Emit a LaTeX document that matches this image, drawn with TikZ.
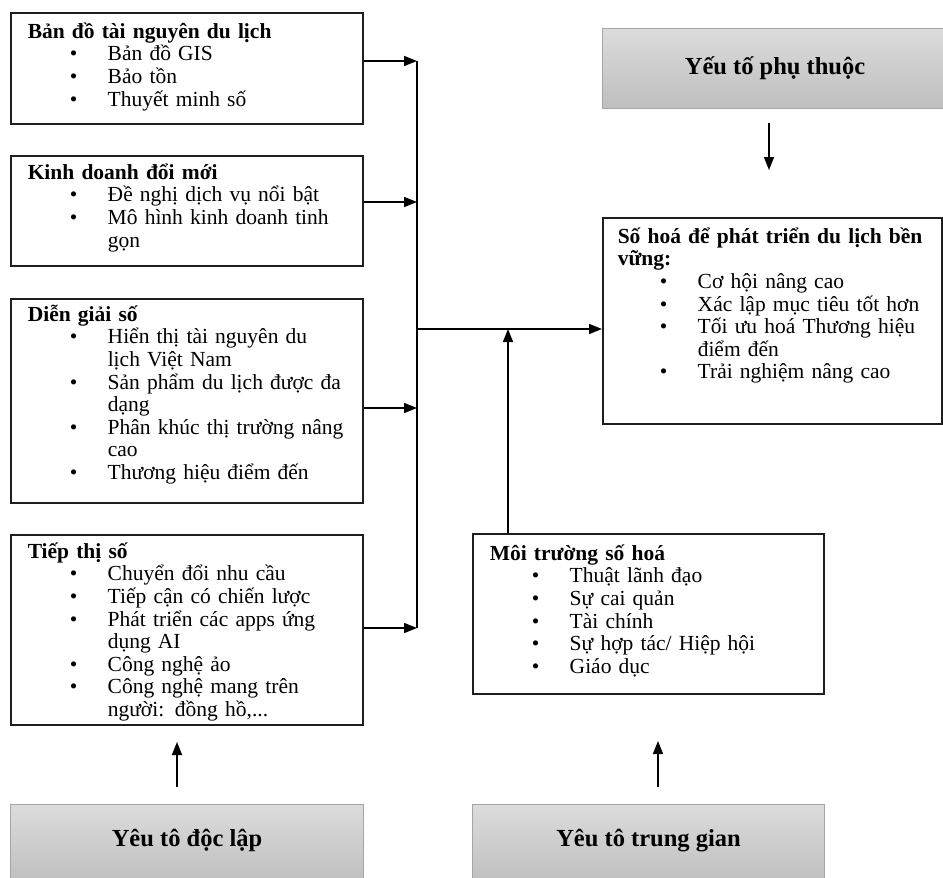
\documentclass[tikz,border=0pt]{standalone}
\usepackage{fontspec}
\setmainfont{Liberation Serif}
\usetikzlibrary{arrows.meta}

\newcommand{\ttl}[1]{\lineskiplimit=-50pt\relax\parskip=0pt\relax\par\noindent\rule{0pt}{21pt}{\bfseries #1}\par}
\newcommand{\itm}[1]{\par\noindent\hspace*{42pt}\makebox[38pt][l]{\textbullet}#1\par}
\newcommand{\cnt}[1]{\par\noindent\hspace*{80pt}#1\par}

\tikzset{every picture/.style={line width=1.5pt}}
\tikzset{
  listbox/.style={draw={rgb, 255:red, 30; green, 30; blue, 30 }, rectangle, inner sep=0pt, anchor=north west},
  listtext/.style={anchor=north west, inner sep=0pt, text width=#1, align=left,
    font=\fontsize{21.5}{22.6}\selectfont},
  greybox/.style={draw={rgb, 255:red, 165; green, 165; blue, 165 }, line width=1pt, rectangle, inner sep=0pt, anchor=north west,
    top color={rgb, 255:red, 220; green, 220; blue, 220 }, bottom color={rgb, 255:red, 190; green, 190; blue, 190 },
    font=\fontsize{24.5}{26}\selectfont\bfseries},
  conn/.style={-{Triangle[length=13pt,width=10pt]}},
}

\begin{document}
\begin{tikzpicture}[x=1pt,y=1pt,yscale=-1]
	\useasboundingbox (0,0) rectangle (943,878);

	%Shape: Rectangle [left column]
	\node [listbox, minimum width=352, minimum height=111] (ban) at (10,12) {};
	\node [listbox, minimum width=352, minimum height=110] (kd) at (10,155) {};
	\node [listbox, minimum width=352, minimum height=204] (dg) at (10,298) {};
	\node [listbox, minimum width=352, minimum height=190] (tt) at (10,534) {};
	%Shape: Rectangle [right side]
	\node [listbox, minimum width=339, minimum height=206] (so) at (602,217) {};
	\node [listbox, minimum width=351, minimum height=160] (mt) at (472,533) {};
	%Shape: Grey boxes
	\node [greybox, minimum width=345, minimum height=80] (dep) at (602,28) {Yếu tố phụ thuộc};
	\node [greybox, minimum width=353, minimum height=80, text depth=14pt] (dl) at (10,804) {Yêu tô độc lập};
	\node [greybox, minimum width=352, minimum height=80, text depth=14pt] (tg) at (472,804) {Yêu tô trung gian};

	% Text Node (yshift is flipped by yscale=-1)
	\node [listtext=335pt] (banT) at ([xshift=17pt,yshift=3pt]ban.north west) {\ttl{Bản đồ tài nguyên du lịch}
		\itm{Bản đồ GIS}
		\itm{Bảo tồn}
		\itm{Thuyết minh số}};
	% Text Node
	\node [listtext=335pt] (kdT) at ([xshift=17pt,yshift=1pt]kd.north west) {\ttl{Kinh doanh đổi mới}
		\itm{Đề nghị dịch vụ nổi bật}
		\itm{Mô hình kinh doanh tinh}
		\cnt{gọn}};
	% Text Node
	\node [listtext=335pt] (dgT) at ([xshift=17pt,yshift=0pt]dg.north west) {\ttl{Diễn giải số}
		\itm{Hiển thị tài nguyên du}
		\cnt{lịch Việt Nam}
		\itm{Sản phẩm du lịch được đa}
		\cnt{dạng}
		\itm{Phân khúc thị trường nâng}
		\cnt{cao}
		\itm{Thương hiệu điểm đến}};
	% Text Node
	\node [listtext=335pt] (ttT) at ([xshift=17pt,yshift=1pt]tt.north west) {\ttl{Tiếp thị số}
		\itm{Chuyển đổi nhu cầu}
		\itm{Tiếp cận có chiến lược}
		\itm{Phát triển các apps ứng}
		\cnt{dụng AI}
		\itm{Công nghệ ảo}
		\itm{Công nghệ mang trên}
		\cnt{người: đồng hồ,...}};
	% Text Node
	\node [listtext=325pt] (soT) at ([xshift=15pt,yshift=3pt]so.north west) {\ttl{Số hoá để phát triển du lịch bền}
		\noindent{\bfseries vững:}\par
		\itm{Cơ hội nâng cao}
		\itm{Xác lập mục tiêu tốt hơn}
		\itm{Tối ưu hoá Thương hiệu}
		\cnt{điểm đến}
		\itm{Trải nghiệm nâng cao}};
	% Text Node
	\node [listtext=330pt] (mtT) at ([xshift=17pt,yshift=4pt]mt.north west) {\ttl{Môi trường số hoá}
		\itm{Thuật lãnh đạo}
		\itm{Sự cai quản}
		\itm{Tài chính}
		\itm{Sự hợp tác/ Hiệp hội}
		\itm{Giáo dục}};

	%Straight Lines [bus]
	\coordinate (j1) at (417,61);
	\coordinate (j2) at (417,202);
	\coordinate (j3) at (417,408);
	\coordinate (j4) at (417,628);
	\coordinate (jm) at (417,329);
	\coordinate (ju) at (508,329);
	\draw (j1) -- (j4);
	\draw [conn] (j1 -| ban.east) -- (j1);
	\draw [conn] (j2 -| kd.east) -- (j2);
	\draw [conn] (j3 -| dg.east) -- (j3);
	\draw [conn] (j4 -| tt.east) -- (j4);
	\draw [conn] (jm) -- (jm -| so.west);
	\draw [conn] (ju |- mt.north) -- (ju);

	%Straight Lines [free arrows]
	\coordinate (a1) at (769,123);
	\coordinate (a2) at (769,170);
	\coordinate (b1) at (177,787);
	\coordinate (b2) at (177,742);
	\coordinate (c1) at (658,787);
	\coordinate (c2) at (658,741);
	\draw [conn] (a1) -- (a2);
	\draw [conn] (b1) -- (b2);
	\draw [conn] (c1) -- (c2);

\end{tikzpicture}
\end{document}
